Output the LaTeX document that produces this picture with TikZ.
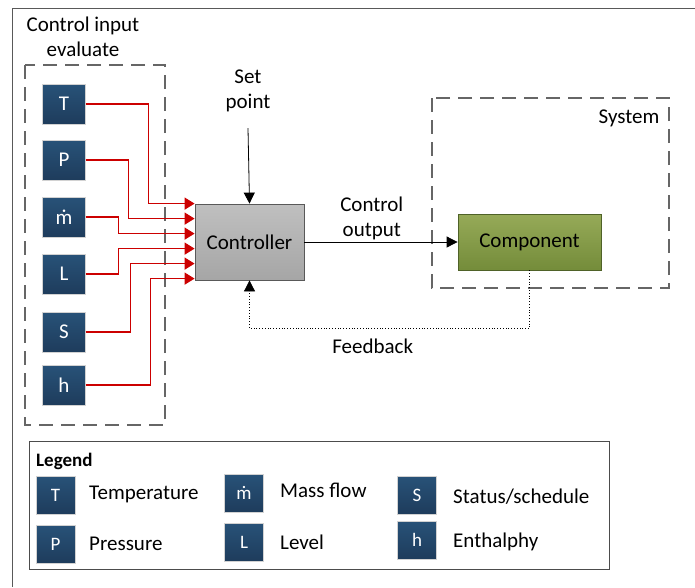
\documentclass[tikz,border=0pt]{standalone}
\usepackage{fontspec}
\setmainfont{Carlito}
\usetikzlibrary{arrows.meta}
\definecolor{sensortop}{RGB}{40,82,120}
\definecolor{sensorbot}{RGB}{30,60,92}
\definecolor{sigred}{RGB}{204,0,0}
\definecolor{olivetop}{RGB}{150,170,88}
\definecolor{olivebot}{RGB}{116,140,58}
\definecolor{oliveline}{RGB}{79,98,40}
\begin{document}
\begin{tikzpicture}[x=1pt, y=-1pt,
    font=\fontsize{21}{25}\selectfont,
    sensor/.style={rectangle, draw=gray!35, top color=sensortop, bottom color=sensorbot, minimum width=43pt, minimum height=40pt, text=white, inner sep=0pt},
    lsensor/.style={sensor, minimum width=39pt, minimum height=38pt, font=\fontsize{19}{23}\selectfont},
    group/.style={draw=black!60, line width=1.2pt, dash pattern=on 14pt off 8pt},
    sig/.style={-{Triangle[length=10pt, width=12pt]}, sigred, line width=1.3pt},
    arrow/.style={-{Triangle[length=11pt, width=11pt]}, thick},
    label/.style={align=center, inner sep=0pt}
]
    \useasboundingbox (0,0) rectangle (695,587);

    % Frame
    \draw[black!65, line width=1pt] (695,8) -- (12,8) -- (12,587);

    % Groups
    \draw[group] (25,65) rectangle (165,425);
    \draw[group] (432,98) rectangle (669,288);
    \node[label] (inputs) at (83,37) {Control input\\evaluate};
    \node[label] (system) at (629,118) {System};

    % Sensors
    \node[sensor] (T) at (64,104) {T};
    \node[sensor] (P) at (64,160) {P};
    \node[sensor] (m) at (64,217) {ṁ};
    \node[sensor] (L) at (64,274) {L};
    \node[sensor] (S) at (64,332) {S};
    \node[sensor] (h) at (64,385) {h};

    % Controller and component
    \node[rectangle, draw=black!65, thick, top color=gray!50, bottom color=gray!70, minimum width=109pt, minimum height=76pt] (ctrl) at (249.5,242) {Controller};
    \node[rectangle, draw=oliveline, thick, top color=olivetop, bottom color=olivebot, minimum width=143pt, minimum height=56pt] (comp) at (529.5,242) {Component};

    % Inputs to controller
    \foreach \s/\dx/\k in {T/63/0, P/43/1, m/33/2, L/33/3, S/45/4, h/65/5}
        \draw[sig] (\s.east) -- ++(\dx,0) |- ([yshift=-\k*15pt]ctrl.north west);

    % Set point, output, feedback
    \node[label] (setp) at (248,91) {Set\\point};
    \draw[arrow] (setp.south) ++(0,16) coordinate (sp) (sp) -- (ctrl.north);
    \draw[arrow] (ctrl.east) -- node[label, above=2pt, pos=0.44] {Control\\output} (comp.west);
    \draw[arrow, dotted] (comp.south) -- ++(0,58) -| node[label, below=10pt, pos=0.28] {Feedback} (ctrl.south);

    % Legend
    \draw[black!70, line width=1pt] (29,441) rectangle (609,569);
    \node[anchor=west, inner sep=0pt, font=\fontsize{19}{22}\selectfont\bfseries] (legend) at (36,461) {Legend};
    \node[lsensor] (lT) at (55.5,495) {T};
    \node[lsensor] (lP) at (55.5,544) {P};
    \node[lsensor] (lm) at (244,493) {ṁ};
    \node[lsensor] (lL) at (244,542) {L};
    \node[lsensor] (lS) at (417,495) {S};
    \node[lsensor] (lh) at (417,540) {h};
    \node[anchor=west, inner sep=0pt] at (89,494) {Temperature};
    \node[anchor=west, inner sep=0pt] at (89,544) {Pressure};
    \node[anchor=west, inner sep=0pt] at (280,490) {Mass flow};
    \node[anchor=west, inner sep=0pt] at (280,542) {Level};
    \node[anchor=west, inner sep=0pt] at (453,497) {Status/schedule};
    \node[anchor=west, inner sep=0pt] at (453,542) {Enthalphy};
\end{tikzpicture}
\end{document}
